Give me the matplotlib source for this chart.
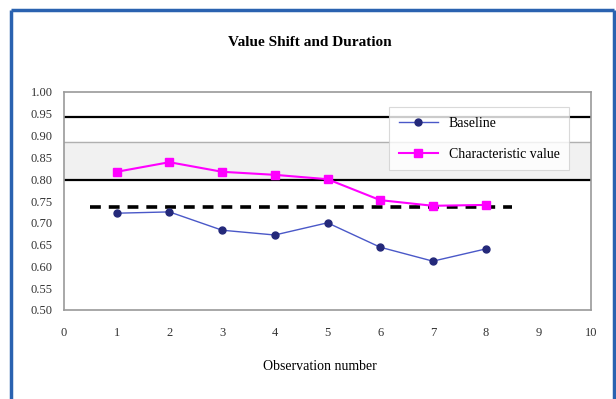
import matplotlib
matplotlib.use("Agg")
import matplotlib.pyplot as plt
from matplotlib.lines import Line2D

plt.rcParams['font.family'] = ['Liberation Serif', 'DejaVu Serif']

# Data
obs = [1, 2, 3, 4, 5, 6, 7, 8]
baseline = [0.722, 0.725, 0.683, 0.672, 0.700, 0.644, 0.612, 0.640]
characteristic = [0.817, 0.839, 0.817, 0.810, 0.800, 0.752, 0.739, 0.741]
upper_limit = 0.943
lower_limit = 0.798
center_line = 0.736
y_ticks = [0.50, 0.55, 0.60, 0.65, 0.70, 0.75, 0.80, 0.85, 0.90, 0.95, 1.00]
x_ticks = list(range(0, 11))

title = "Value Shift and Duration"
xlabel = "Observation number"
series_names = ["Baseline", "Characteristic value"]

fig = plt.figure(figsize=(6.16, 3.99), dpi=100)

# Outer blue frame (top, left, right)
frame_color = "#2a62b0"
for xs, ys in [([10.5, 10.5], [399, 9.5]),
               ([10.5, 613.5], [9.5, 9.5]),
               ([613.5, 613.5], [9.5, 399])]:
    fig.add_artist(Line2D([x / 616 for x in xs], [1 - y / 399 for y in ys],
                          color=frame_color, lw=2.5, solid_capstyle="butt",
                          transform=fig.transFigure))

ax = fig.add_axes([64 / 616, (399 - 310) / 399, (591 - 64) / 616, 218 / 399])
ax.set_xlim(0, 10)
ax.set_ylim(0.50, 1.00)

# light band and grid line
ax.axhspan(0.80, 0.885, color="#f1f1f1", zorder=0)
ax.axhline(0.885, color="#b0b0b0", lw=1.0, zorder=1)

# control lines
ax.axhline(upper_limit, color="black", lw=1.6, zorder=2)
ax.axhline(lower_limit, color="black", lw=1.6, zorder=2)
ax.plot([0.5, 8.5], [center_line, center_line], color="black", lw=2.6,
        linestyle=(0, (3, 2.2)), zorder=3)

# series
ax.plot(obs, baseline, color="#4a58c8", lw=1.0, marker="o", markersize=5,
        markerfacecolor="#24297a", markeredgecolor="#24297a", zorder=4, label=series_names[0])
ax.plot(obs, characteristic, color="#ff00ff", lw=1.5, marker="s", markersize=6,
        markerfacecolor="#ff00ff", markeredgecolor="#ff00ff", zorder=4, label=series_names[1])

ax.set_xticks(x_ticks)
ax.set_yticks(y_ticks)
ax.set_yticklabels([f"{v:.2f}" for v in y_ticks])
ax.tick_params(axis="both", labelsize=9, colors="#333333", length=0)
ax.tick_params(axis="x", pad=12)
ax.tick_params(axis="y", pad=8)

for side in ["top", "bottom", "left", "right"]:
    ax.spines[side].set_color("#9a9a9a")
    ax.spines[side].set_linewidth(1.2)

leg = ax.legend(loc="upper left", bbox_to_anchor=((382 - 64) / 527, (310 - 100) / 218),
                fontsize=10, frameon=True, fancybox=False, edgecolor="#d0d0d0",
                borderpad=0.7, labelspacing=1.3, handlelength=2.8, handletextpad=0.8)
leg.get_frame().set_linewidth(0.8)

fig.text(0.503, 1 - 43 / 399, title, ha="center", va="center", fontsize=11, fontweight="bold")
fig.text(0.52, 1 - 367 / 399, xlabel, ha="center", va="center", fontsize=10)

fig.savefig("out.png", dpi=100)
